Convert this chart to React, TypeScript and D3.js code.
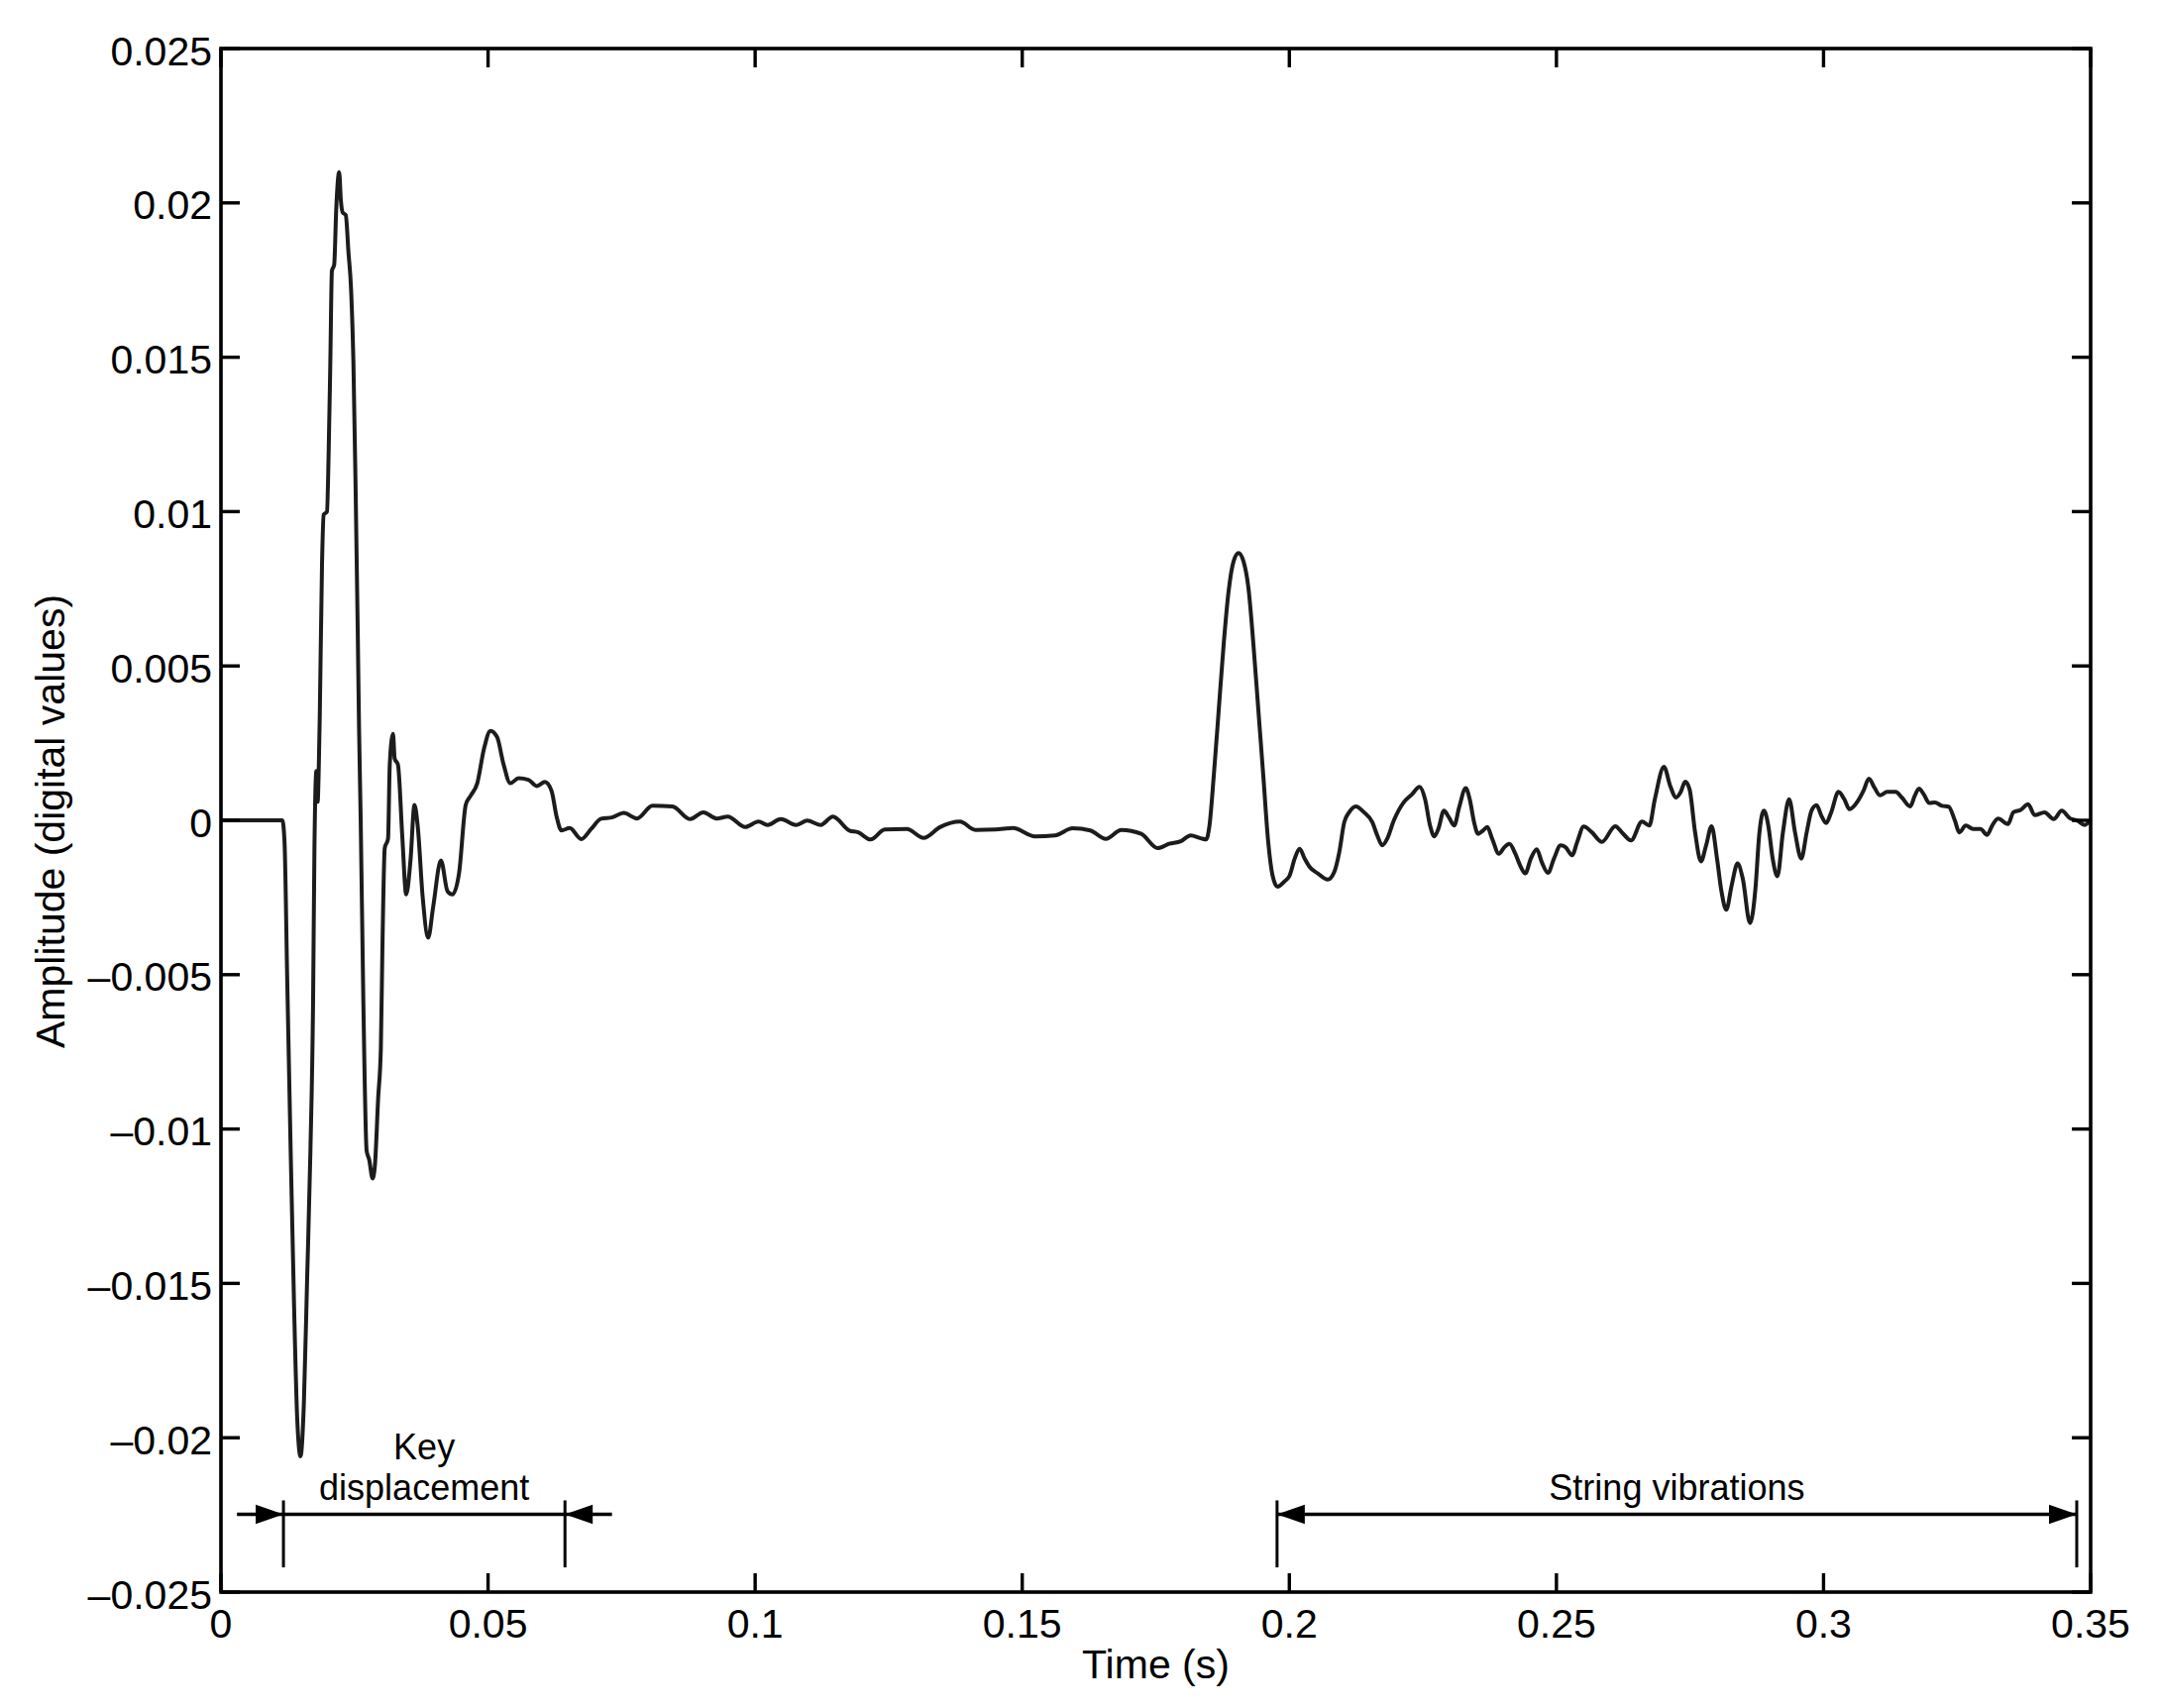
import React from 'react';
import * as d3 from 'd3';

// ---- data ----
const timeSec = [
  0, 0.0115, 0.0119, 0.0124, 0.01305, 0.01367, 0.01428, 0.0149, 0.01552, 0.01614, 0.01675, 0.01725, 0.0175,
  0.01787, 0.0181, 0.0183, 0.01849, 0.01892, 0.01923, 0.01985, 0.02016, 0.02047, 0.02077, 0.0212, 0.02158,
  0.02213, 0.02244, 0.02276, 0.02337, 0.02387, 0.02436, 0.0248, 0.02523, 0.0256, 0.02585, 0.02616, 0.02665,
  0.02727, 0.02776, 0.02838, 0.02881, 0.02943, 0.02993, 0.03023, 0.03066, 0.03128, 0.0316, 0.03221, 0.03252,
  0.03314, 0.03394, 0.03468, 0.03548, 0.03623, 0.03684, 0.03777, 0.0388, 0.03973, 0.04118, 0.04242, 0.04335,
  0.04458, 0.04582, 0.04675, 0.04798, 0.04922, 0.05045, 0.05169, 0.05292, 0.05416, 0.0557, 0.05756, 0.05911,
  0.06065, 0.06189, 0.06282, 0.06374, 0.06529, 0.06745, 0.06931, 0.07116, 0.07332, 0.0754, 0.07788, 0.08078,
  0.0845, 0.0878, 0.09029, 0.09278, 0.09486, 0.09816, 0.10065, 0.10231, 0.1048, 0.10769, 0.10976, 0.11224,
  0.11456, 0.11763, 0.11929, 0.12161, 0.12426, 0.12839, 0.13153, 0.1346, 0.13833, 0.14123, 0.14496, 0.14826,
  0.15239, 0.15612, 0.15944, 0.16274, 0.16565, 0.16855, 0.17228, 0.17535, 0.17751, 0.17968, 0.18153, 0.18339,
  0.18443, 0.18505, 0.18585, 0.18678, 0.18771, 0.18863, 0.18956, 0.19049, 0.19142, 0.19234, 0.19327, 0.1942,
  0.19513, 0.19605, 0.19685, 0.19778, 0.19915, 0.20008, 0.201, 0.20193, 0.20286, 0.20379, 0.20533, 0.20718,
  0.20842, 0.20935, 0.21028, 0.2112, 0.21244, 0.21398, 0.21553, 0.21646, 0.21739, 0.21831, 0.21955, 0.22141,
  0.22295, 0.22437, 0.22541, 0.22634, 0.22715, 0.22789, 0.22894, 0.22986, 0.23086, 0.23179, 0.23302, 0.23377,
  0.23458, 0.23532, 0.23625, 0.23705, 0.23798, 0.23922, 0.24026, 0.24119, 0.2423, 0.24317, 0.24416, 0.24521,
  0.24632, 0.24725, 0.24842, 0.24954, 0.25078, 0.2517, 0.25294, 0.25387, 0.2551, 0.25665, 0.25851, 0.26102,
  0.26225, 0.26397, 0.26602, 0.26739, 0.26842, 0.27013, 0.27131, 0.2724, 0.27322, 0.27411, 0.27493, 0.27596,
  0.27705, 0.27802, 0.27904, 0.28006, 0.2809, 0.28179, 0.28281, 0.2839, 0.28487, 0.28624, 0.28726, 0.28795,
  0.28884, 0.28966, 0.29048, 0.29137, 0.2924, 0.29356, 0.29466, 0.29583, 0.29685, 0.29774, 0.2987, 0.29959,
  0.30048, 0.30144, 0.3028, 0.30389, 0.30486, 0.30644, 0.30746, 0.3085, 0.30952, 0.31055, 0.31191, 0.31349,
  0.31465, 0.31623, 0.31706, 0.31788, 0.31877, 0.31979, 0.32083, 0.32218, 0.32342, 0.32459, 0.32541, 0.32663,
  0.328, 0.32938, 0.33062, 0.33157, 0.33267, 0.33452, 0.33554, 0.33691, 0.33829, 0.33953, 0.34137, 0.34309,
  0.34459, 0.34617, 0.34754, 0.3489, 0.35,
];

const amplitude = [
  0, 0, -0.0007, -0.0051, -0.0107, -0.0156, -0.0194, -0.0206, -0.0189, -0.0148, -0.0107, -0.0058, -0.0009,
  0.0016, 0.0006, 0.0016, 0.0033, 0.0083, 0.0099, 0.01, 0.0119, 0.0148, 0.0178, 0.018, 0.0198,
  0.021, 0.0201, 0.0197, 0.0196, 0.0184, 0.0172, 0.0148, 0.0105, 0.0062, 0.003, 0, -0.0058,
  -0.0107, -0.011, -0.0116, -0.0112, -0.009, -0.0074, -0.0041, -0.0009, -0.0006, 0.0018, 0.0028, 0.002,
  0.0018, -0.0005, -0.0024, -0.0013, 0.0005, -0.0002, -0.0025, -0.0038, -0.0028, -0.0013, -0.0023, -0.0024,
  -0.0017, 0.0005, 0.0008, 0.0012, 0.0023, 0.0029, 0.0027, 0.0018, 0.0012, 0.00136, 0.00131, 0.00111,
  0.00124, 0.00095, 0.00013, -0.00033, -0.00025, -0.00061, -0.00028, 0.00005, 0.0001, 0.00024, 0.00006, 0.00047,
  0.00045, 0.00004, 0.00026, 0.00006, 0.00012, -0.00022, -0.00004, -0.00015, 0.00004, -0.00015, -0.00001, -0.00015,
  0.00012, -0.00033, -0.00039, -0.00062, -0.0003, -0.00028, -0.00057, -0.00022, -0.00004, -0.00031, -0.0003, -0.00025,
  -0.00052, -0.00049, -0.00026, -0.00033, -0.0006, -0.00031, -0.00044, -0.0009, -0.00076, -0.00068, -0.00049, -0.00058,
  -0.00062, -0.00017, 0.00143, 0.00357, 0.00571, 0.00742, 0.00839, 0.00866, 0.00839, 0.00753, 0.00571, 0.00357,
  0.00143, -0.00071, -0.00178, -0.00215, -0.00197, -0.00178, -0.00124, -0.00092, -0.00124, -0.00151, -0.00172, -0.00192,
  -0.00167, -0.00103, -0.00006, 0.00026, 0.00045, 0.00026, -0.00006, -0.00049, -0.00081, -0.0006, -0.00001, 0.00058,
  0.00084, 0.00108, 0.00068, -0.00017, -0.00052, -0.00028, 0.00031, 0.0001, -0.00017, 0.00042, 0.00104, 0.00068,
  -0.00006, -0.00044, -0.00033, -0.00022, -0.0006, -0.00108, -0.00087, -0.00076, -0.00108, -0.00145, -0.00172, -0.00124,
  -0.00094, -0.00135, -0.0017, -0.00124, -0.00081, -0.00087, -0.00113, -0.00071, -0.0002, -0.00039, -0.0007, -0.00019,
  -0.00039, -0.00065, -0.00004, -0.00017, 0.00068, 0.00173, 0.00111, 0.00074, 0.0009, 0.00125, 0.001, -0.00039,
  -0.00133, -0.00081, -0.00019, -0.00124, -0.00231, -0.0029, -0.0021, -0.0014, -0.00188, -0.00333, -0.0022, -0.00049,
  0.00031, -0.00017, -0.00124, -0.00181, -0.00039, 0.00068, -0.00039, -0.00124, -0.00039, 0.00031, 0.00049, 0.00015,
  -0.00009, 0.00026, 0.00092, 0.00068, 0.00036, 0.00063, 0.00095, 0.00135, 0.00106, 0.00081, 0.00092, 0.00092,
  0.00074, 0.00045, 0.00079, 0.00103, 0.00084, 0.00056, 0.00058, 0.00047, 0.00044, -0.00001, -0.00039, -0.00017,
  -0.00028, -0.00028, -0.00047, -0.00017, 0.00006, -0.00012, 0.00026, 0.00034, 0.00052, 0.00017, 0.00026, 0.00004,
  0.00031, 0.00006, -0.00001, -0.00015, 0.00002,
];

const xTickValues = [0, 0.05, 0.1, 0.15, 0.2, 0.25, 0.3, 0.35];
const xTickLabels = ['0', '0.05', '0.1', '0.15', '0.2', '0.25', '0.3', '0.35'];
const yTickValues = [-0.025, -0.02, -0.015, -0.01, -0.005, 0, 0.005, 0.01, 0.015, 0.02, 0.025];
const yTickLabels = ['\u20130.025', '\u20130.02', '\u20130.015', '\u20130.01', '\u20130.005', '0', '0.005', '0.01', '0.015', '0.02', '0.025'];

const xDomain = [0, 0.35];
const yDomain = [-0.025, 0.025];

// annotation spans (seconds) and level (amplitude units)
const keySpan = [0.0117, 0.0644];
const keyTails = [0.003, 0.0732];
const stringSpan = [0.1977, 0.3474];
const arrowLevel = -0.02248;
const markerRange = [-0.02203, -0.0242];
const keyLabelLines = ['Key', 'displacement'];
const stringLabel = 'String vibrations';

const xTitle = 'Time (s)';
const yTitle = 'Amplitude (digital values)';

const W = 2179;
const H = 1724;
const PL = 223;
const PR = 2110;
const PT = 49;
const PB = 1607;
const FONT = "'Liberation Sans', Arial, Helvetica, sans-serif";
const TICK = 19;

function arrowHead(tipX: number, y: number, dir: number) {
  // dir = +1 points right, -1 points left
  const len = 28;
  const hw = 9.7;
  const bx = tipX - dir * len;
  return `${tipX},${y} ${bx},${y - hw} ${bx},${y + hw}`;
}

export default function App() {
  const x = d3.scaleLinear().domain(xDomain).range([PL, PR]);
  const y = d3.scaleLinear().domain(yDomain).range([PB, PT]);
  const pts: [number, number][] = timeSec.map((t, i) => [t, amplitude[i]]);
  const line = d3
    .line<[number, number]>()
    .x((d) => x(d[0]))
    .y((d) => y(d[1]))
    .curve(d3.curveMonotoneX);

  const ay = y(arrowLevel);
  const m0 = y(markerRange[0]);
  const m1 = y(markerRange[1]);
  const k0 = x(keySpan[0]);
  const k1 = x(keySpan[1]);
  const s0 = x(stringSpan[0]);
  const s1 = x(stringSpan[1]);
  const sw = 3.3;

  return (
    <svg
      width={W}
      height={H}
      viewBox={`0 0 ${W} ${H}`}
      style={{ position: 'absolute', left: 0, top: 0, display: 'block', background: '#fff' }}
      fontFamily={FONT}
    >
      <rect x={0} y={0} width={W} height={H} fill="#fff" />
      {/* data line */}
      <path d={line(pts) || ''} fill="none" stroke="#1c1c1c" strokeWidth={4} strokeLinejoin="round" />

      {/* axes box */}
      <rect x={PL} y={PT} width={PR - PL} height={PB - PT} fill="none" stroke="#000" strokeWidth={3.6} />

      {/* x ticks */}
      {xTickValues.map((v, i) => (
        <g key={'xt' + i}>
          <line x1={x(v)} x2={x(v)} y1={PB} y2={PB - TICK} stroke="#000" strokeWidth={3.4} />
          <line x1={x(v)} x2={x(v)} y1={PT} y2={PT + TICK} stroke="#000" strokeWidth={3.4} />
          <text x={x(v)} y={PB + 46} fontSize={41} textAnchor="middle" fill="#000">
            {xTickLabels[i]}
          </text>
        </g>
      ))}

      {/* y ticks */}
      {yTickValues.map((v, i) => (
        <g key={'yt' + i}>
          <line x1={PL} x2={PL + TICK} y1={y(v)} y2={y(v)} stroke="#000" strokeWidth={3.4} />
          <line x1={PR} x2={PR - TICK} y1={y(v)} y2={y(v)} stroke="#000" strokeWidth={3.4} />
          <text x={PL - 9} y={y(v) + 16.5} fontSize={41} textAnchor="end" fill="#000">
            {yTickLabels[i]}
          </text>
        </g>
      ))}

      {/* axis titles */}
      <text x={(PL + PR) / 2} y={1694} fontSize={41} textAnchor="middle" fill="#000">
        {xTitle}
      </text>
      <text
        transform={`translate(65, ${(PT + PB) / 2 + 1}) rotate(-90)`}
        fontSize={41}
        textAnchor="middle"
        fill="#000"
      >
        {yTitle}
      </text>

      {/* Key displacement annotation */}
      <g stroke="#000" strokeWidth={sw} fill="#000">
        <line x1={k0} x2={k0} y1={m0} y2={m1} strokeWidth={3} />
        <line x1={k1} x2={k1} y1={m0} y2={m1} strokeWidth={3} />
        <line x1={x(keyTails[0])} x2={k0} y1={ay} y2={ay} />
        <line x1={k0} x2={k1} y1={ay} y2={ay} />
        <line x1={k1} x2={x(keyTails[1])} y1={ay} y2={ay} />
        <polygon points={arrowHead(k0, ay, 1)} stroke="none" />
        <polygon points={arrowHead(k1, ay, -1)} stroke="none" />
      </g>
      <text x={(k0 + k1) / 2} y={ay - 55.5} fontSize={36} textAnchor="middle" fill="#000">
        {keyLabelLines[0]}
      </text>
      <text x={(k0 + k1) / 2} y={ay - 14.5} fontSize={36} textAnchor="middle" fill="#000">
        {keyLabelLines[1]}
      </text>

      {/* String vibrations annotation */}
      <g stroke="#000" strokeWidth={sw} fill="#000">
        <line x1={s0} x2={s0} y1={m0} y2={m1} strokeWidth={3} />
        <line x1={s1} x2={s1} y1={m0} y2={m1} strokeWidth={3} />
        <line x1={s0} x2={s1} y1={ay} y2={ay} />
        <polygon points={arrowHead(s0, ay, -1)} stroke="none" />
        <polygon points={arrowHead(s1, ay, 1)} stroke="none" />
      </g>
      <text x={(s0 + s1) / 2} y={ay - 14.5} fontSize={36} textAnchor="middle" fill="#000">
        {stringLabel}
      </text>
    </svg>
  );
}
